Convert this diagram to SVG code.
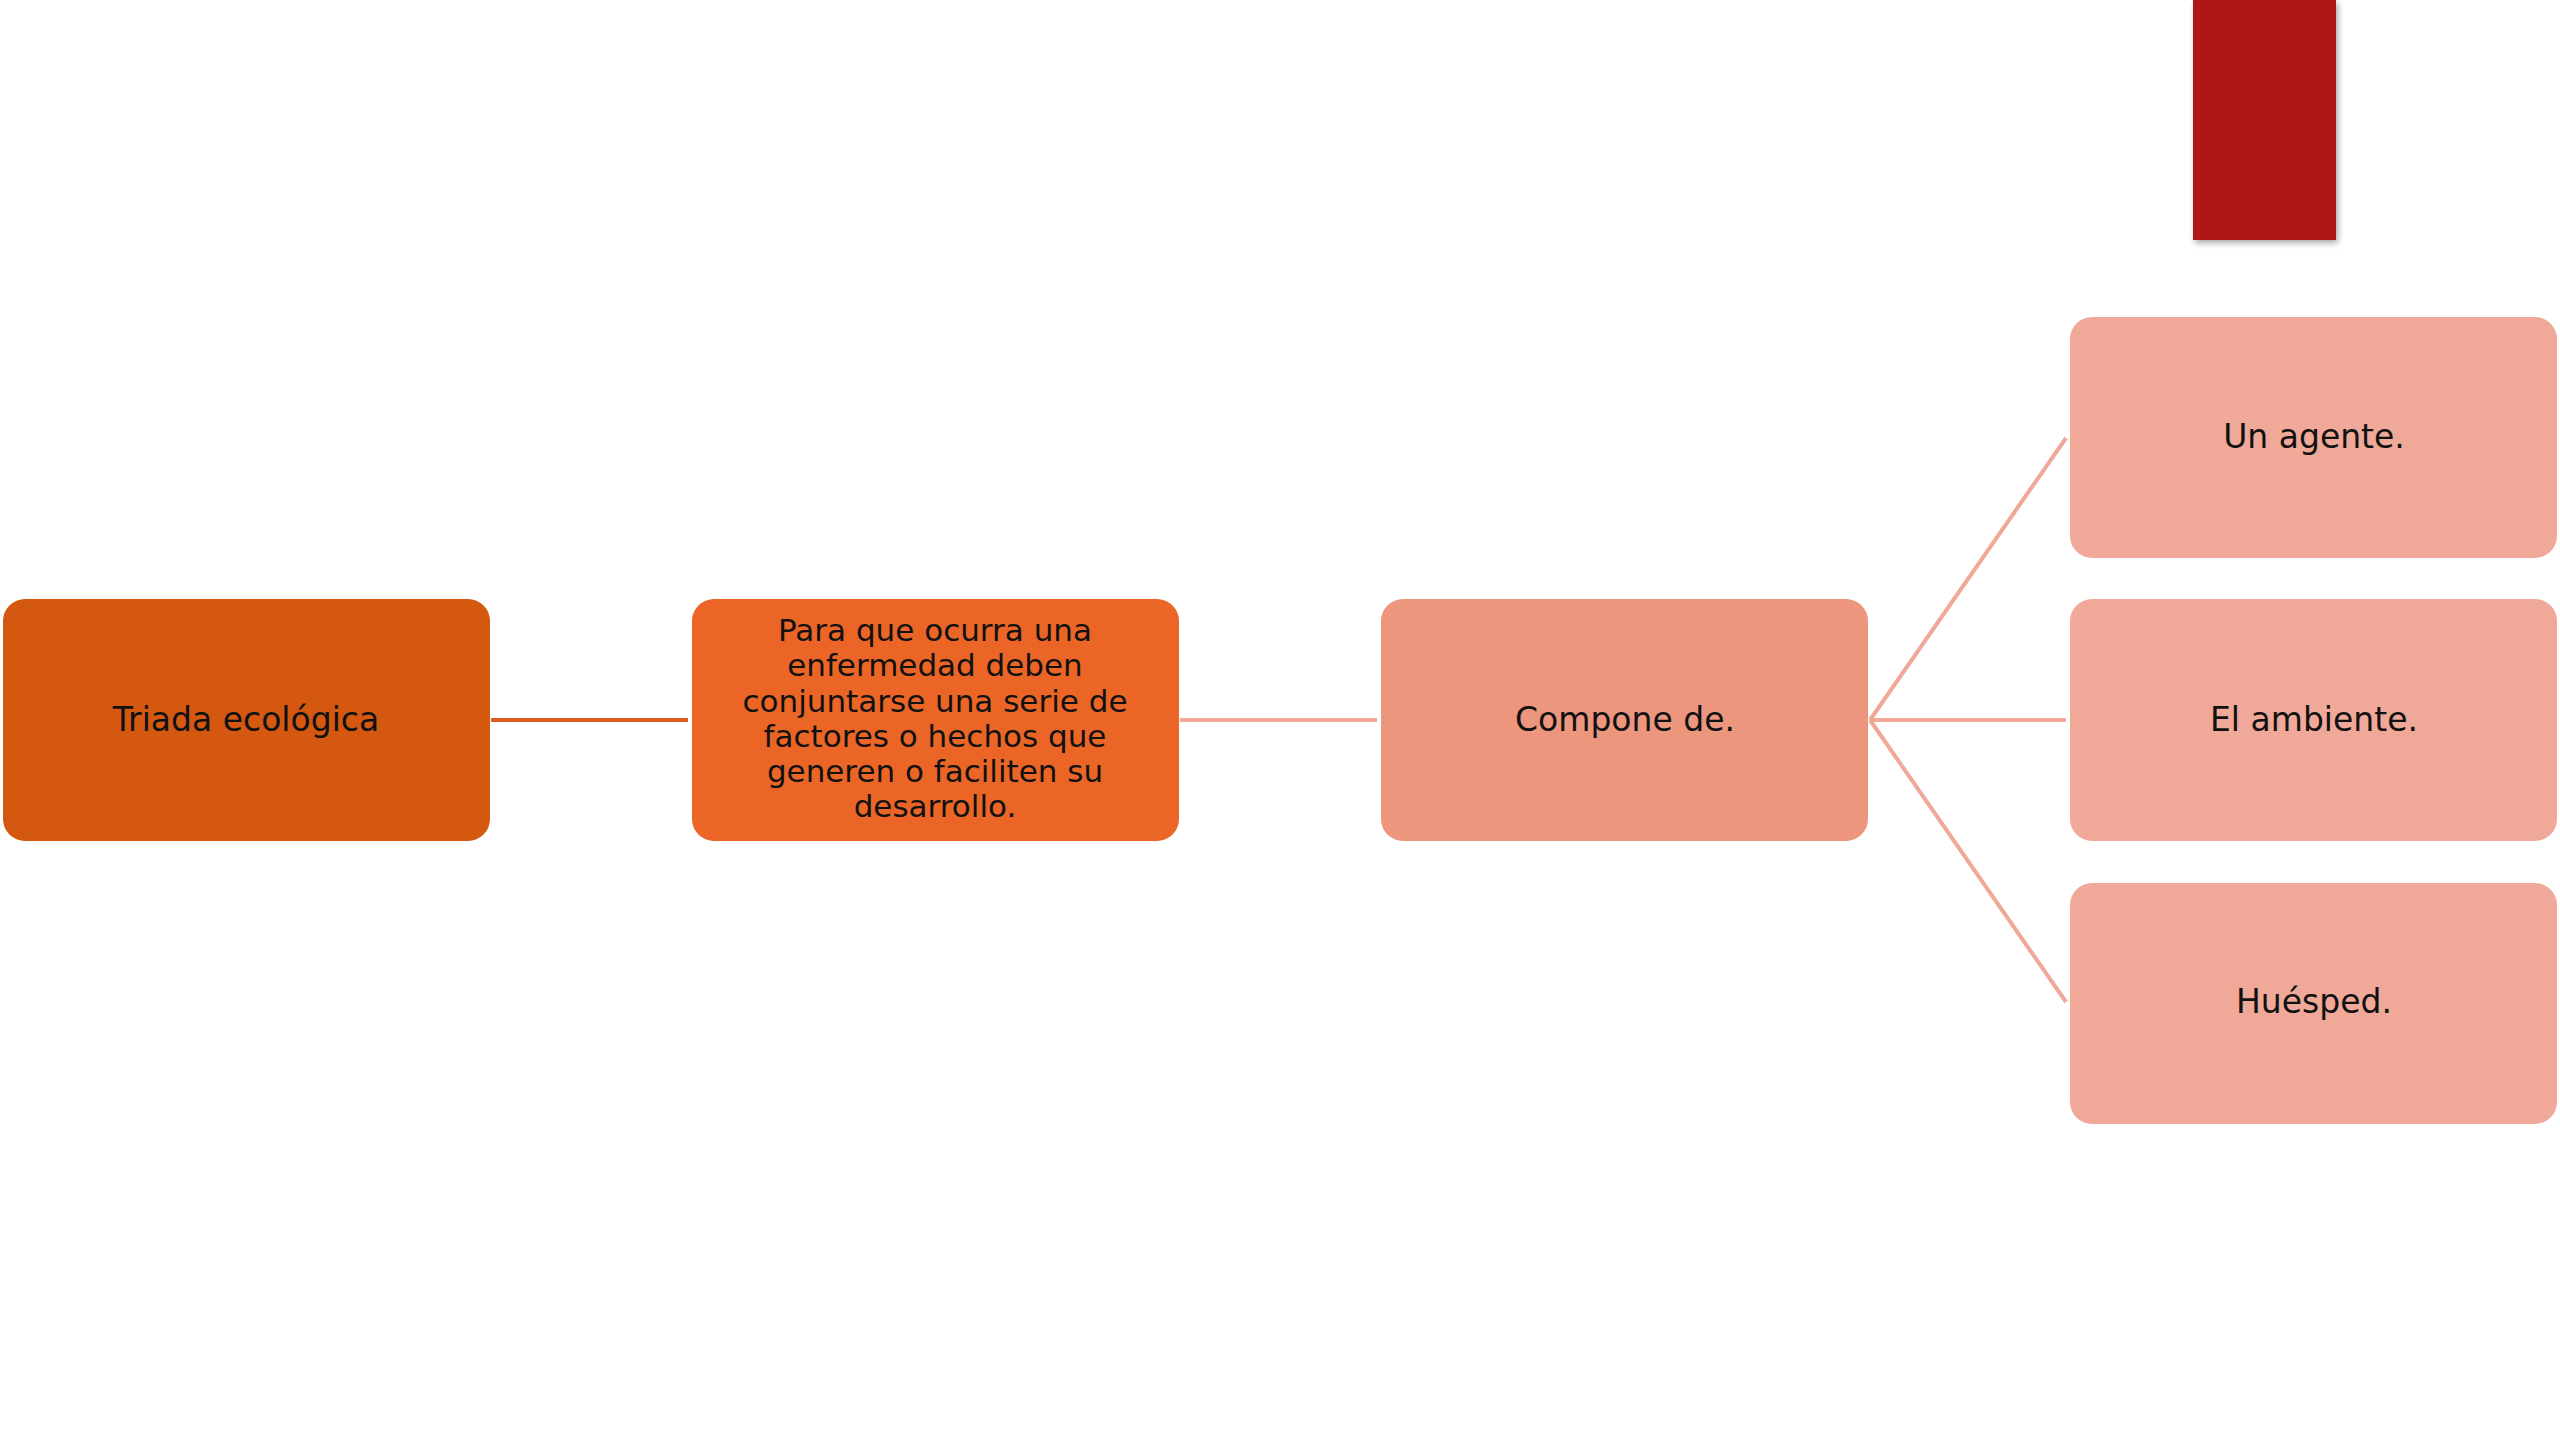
<svg xmlns="http://www.w3.org/2000/svg" width="2560" height="1440" viewBox="0 0 2560 1440">
<defs>
<style>
.lbl{font-family:"DejaVu Sans","Noto Sans",sans-serif;font-size:33px;fill:#111;text-anchor:middle}
.sm{font-size:31px}
.c{fill:none;stroke-width:4;stroke-linecap:butt}
</style>
<filter id="sh" x="-20%" y="-20%" width="140%" height="140%">
<feDropShadow dx="2" dy="3" stdDeviation="3" flood-color="#000" flood-opacity="0.35"/>
</filter>
</defs>
<rect width="2560" height="1440" fill="#fff"/>
<rect id="accent" x="2193" y="0" width="143" height="240" fill="#B01615" filter="url(#sh)"/>
<g id="connectors">
<line class="c" x1="491" y1="720" x2="688" y2="720" stroke="#DC5E20"/>
<line class="c" x1="1180" y1="720" x2="1377" y2="720" stroke="#F0A898"/>
<line class="c" x1="1870" y1="720" x2="2066" y2="438" stroke="#F0A898"/>
<line class="c" x1="1870" y1="720" x2="2066" y2="720" stroke="#F0A898"/>
<line class="c" x1="1870" y1="720" x2="2066" y2="1002" stroke="#F0A898"/>
</g>
<g id="n1">
<rect x="3" y="599" width="487" height="242" rx="22" fill="#D4580F"/>
<text class="lbl" x="246" y="731">Triada ecológica</text>
</g>
<g id="n2">
<rect x="692" y="599" width="487" height="242" rx="22" fill="#EB6626"/>
<text class="lbl sm" x="935" y="641">Para que ocurra una</text>
<text class="lbl sm" x="935" y="676">enfermedad deben</text>
<text class="lbl sm" x="935" y="712">conjuntarse una serie de</text>
<text class="lbl sm" x="935" y="747">factores o hechos que</text>
<text class="lbl sm" x="935" y="782">generen o faciliten su</text>
<text class="lbl sm" x="935" y="817">desarrollo.</text>
</g>
<g id="n3">
<rect x="1381" y="599" width="487" height="242" rx="22" fill="#ED967E"/>
<text class="lbl" x="1625" y="731">Compone de.</text>
</g>
<g id="n4">
<rect x="2070" y="317" width="487" height="241" rx="22" fill="#F0A898"/>
<text class="lbl" x="2314" y="448">Un agente.</text>
</g>
<g id="n5">
<rect x="2070" y="599" width="487" height="242" rx="22" fill="#F0A898"/>
<text class="lbl" x="2314" y="731">El ambiente.</text>
</g>
<g id="n6">
<rect x="2070" y="883" width="487" height="241" rx="22" fill="#F0A898"/>
<text class="lbl" x="2314" y="1013">Huésped.</text>
</g>
</svg>
